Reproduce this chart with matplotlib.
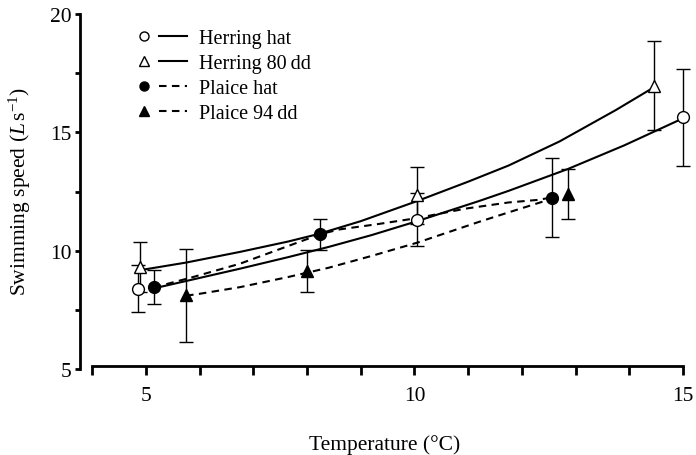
"""Swimming speed vs temperature for herring and plaice larvae, with fitted curves."""
import matplotlib

matplotlib.use("Agg")
import matplotlib.pyplot as plt  # noqa: E402
from matplotlib.lines import Line2D  # noqa: E402
from matplotlib.legend_handler import HandlerTuple  # noqa: E402
from matplotlib.ticker import FixedLocator  # noqa: E402

plt.rcParams["font.family"] = "Liberation Serif"
plt.rcParams["mathtext.fontset"] = "custom"
plt.rcParams["mathtext.rm"] = "Liberation Serif"
plt.rcParams["mathtext.it"] = "Liberation Serif:italic"

# measured means +/- error
herring_hat_t = [4.85, 10.05, 15.0]
herring_hat_v = [8.4, 11.3, 15.65]
herring_hat_err = [1.0, 1.12, 2.05]

herring_80_t = [4.9, 10.05, 14.45]
herring_80_v = [9.3, 12.35, 16.98]
herring_80_err = [1.05, 1.2, 1.87]

plaice_hat_t = [5.15, 8.25, 12.55]
plaice_hat_v = [8.45, 10.7, 12.25]
plaice_hat_err = [0.72, 0.65, 1.65]

plaice_94_t = [5.75, 8.0, 12.85]
plaice_94_v = [8.12, 9.15, 12.4]
plaice_94_err = [1.96, 0.88, 1.05]

# fitted curves
herring_hat_fit_t = [5.17, 5.75, 6.75, 7.65, 8.4, 9.2, 10.05, 11.2, 11.75, 12.85, 13.9, 15.0]
herring_hat_fit_v = [8.42, 8.72, 9.24, 9.73, 10.16, 10.66, 11.25, 12.1, 12.53, 13.45, 14.45, 15.6]

herring_80_fit_t = [4.95, 5.75, 6.75, 7.65, 8.2, 9.0, 10.05, 11.0, 11.75, 12.7, 13.75, 14.45]
herring_80_fit_v = [9.2, 9.5, 9.95, 10.39, 10.7, 11.25, 12.1, 12.92, 13.6, 14.62, 15.95, 16.9]

plaice_hat_fit_t = [5.15, 5.85, 6.75, 7.65, 8.25, 8.6, 9.3, 10.05, 10.95, 11.75, 12.3, 12.55]
plaice_hat_fit_v = [8.45, 8.87, 9.45, 10.2, 10.7, 10.9, 11.12, 11.38, 11.78, 12.04, 12.15, 12.25]

plaice_94_fit_t = [5.75, 6.0, 6.75, 7.65, 8.4, 9.2, 10.05, 11.2, 11.75, 12.45]
plaice_94_fit_v = [8.1, 8.18, 8.46, 8.89, 9.28, 9.78, 10.34, 11.22, 11.62, 12.12]

labels = ["Herring hat", "Herring 80\u2009dd", "Plaice hat", "Plaice 94\u2009dd"]

DASH = (0, (3.6, 2.6))
LW = 1.5

fig = plt.figure(figsize=(6.96, 4.56), dpi=100)
ax = fig.add_axes([0.1091, 0.1833, 0.8879, 0.7939])

ax.plot(herring_hat_fit_t, herring_hat_fit_v, color="black", lw=LW, zorder=2)
ax.plot(herring_80_fit_t, herring_80_fit_v, color="black", lw=LW, zorder=2)
ax.plot(plaice_hat_fit_t, plaice_hat_fit_v, color="black", lw=LW, ls=DASH, zorder=2)
ax.plot(plaice_94_fit_t, plaice_94_fit_v, color="black", lw=LW, ls=DASH, zorder=2)

series = [
    (herring_hat_t, herring_hat_v, herring_hat_err, "o", "white"),
    (herring_80_t, herring_80_v, herring_80_err, "^", "white"),
    (plaice_hat_t, plaice_hat_v, plaice_hat_err, "o", "black"),
    (plaice_94_t, plaice_94_v, plaice_94_err, "^", "black"),
]
for t, v, err, mk, fc in series:
    ax.errorbar(t, v, yerr=err, fmt="none", ecolor="black", elinewidth=1.0,
                capsize=4.8, capthick=1.0, zorder=3)
    ax.plot(t, v, ls="none", marker=mk, ms=8.5, mfc=fc, mec="black",
            mew=1.0, zorder=4)

# legend: marker then a short line segment
handles = []
for (_, _, _, mk, fc), ls in zip(series, ["-", "-", DASH, DASH]):
    m = Line2D([], [], ls="none", marker=mk, ms=6.5, mfc=fc, mec="black", mew=1.0)
    ln = Line2D([], [], color="black", lw=LW, ls=ls)
    handles.append((m, ln))
ax.legend(handles, labels, handler_map={tuple: HandlerTuple(ndivide=None, pad=0.0)},
          loc="upper left", bbox_to_anchor=(0.088, 0.945), frameon=False,
          fontsize=14.5, handlelength=2.8, handletextpad=0.6, labelspacing=0.28,
          borderpad=0.0, borderaxespad=0.0)

ax.set_xlim(3.7, 15.2)
ax.set_ylim(4.9, 20.2)
for side in ("top", "right"):
    ax.spines[side].set_visible(False)
ax.spines["left"].set_position(("data", 3.78))
ax.spines["left"].set_bounds(5, 20)
ax.spines["bottom"].set_position(("data", 5.13))
ax.spines["bottom"].set_bounds(4, 15)
for side in ("left", "bottom"):
    ax.spines[side].set_linewidth(2.0)

ax.xaxis.set_major_locator(FixedLocator([5, 10, 15]))
ax.xaxis.set_minor_locator(FixedLocator([4, 6, 7, 8, 9, 11, 12, 13, 14]))
ax.yaxis.set_major_locator(FixedLocator([5, 10, 15, 20]))
ax.yaxis.set_minor_locator(FixedLocator([7.5, 12.5, 17.5]))
ax.tick_params(axis="x", which="both", direction="out", length=6.5, width=2.0,
               labelsize=15.5, pad=8)
ax.tick_params(axis="y", which="both", direction="out", length=3.5, width=2.0,
               labelsize=15.5, pad=3)

ax.set_xlabel("Temperature (\u00b0C)", fontsize=15.5, labelpad=21)
ax.set_ylabel(r"Swimming speed ($\mathit{L}\,$s$^{-1}$)", fontsize=15.5, labelpad=12)

fig.savefig("out.png", dpi=100)
